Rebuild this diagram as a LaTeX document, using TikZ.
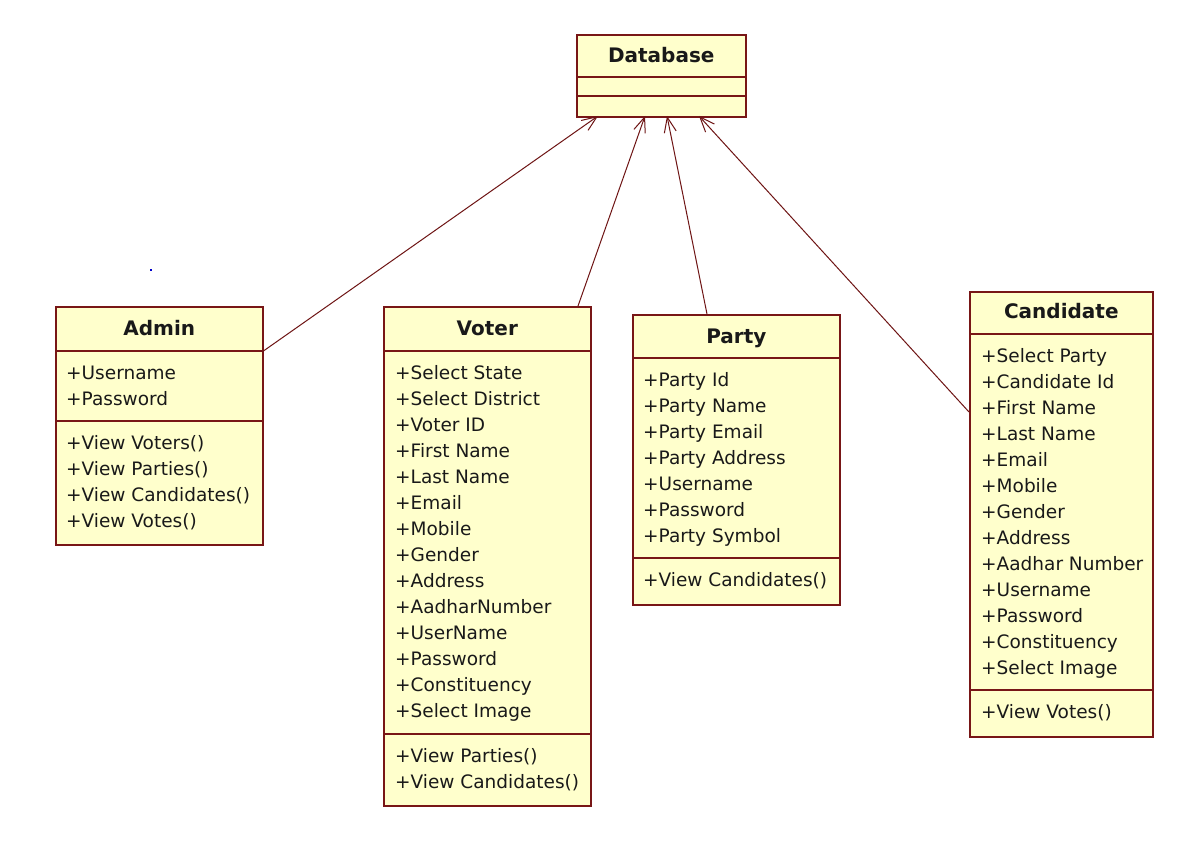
\documentclass[tikz,border=0pt]{standalone}
\usepackage{fontspec}
\setmainfont{DejaVu Sans}
\usetikzlibrary{arrows.meta}
\definecolor{umlborder}{RGB}{120,22,22}
\definecolor{umlfill}{RGB}{255,255,204}
\definecolor{umlline}{RGB}{110,20,20}
\begin{document}
\begin{tikzpicture}[x=1pt,y=-1pt,
  classbox/.style={draw=umlborder, fill=umlfill, line width=1.6pt, anchor=north west, inner sep=0pt},
  sepline/.style={draw=umlborder, line width=1.6pt},
  item/.style={anchor=base west, inner sep=0pt, font=\fontsize{18.5}{26}\selectfont, text=black!90},
  ctitle/.style={anchor=base, inner sep=0pt, font=\bfseries\fontsize{20}{24}\selectfont, text=black!90},
  dep/.style={draw=umlline, line width=1pt, -{Straight Barb[length=15pt,width=12pt,line width=1pt]}}]
\useasboundingbox (0,0) rectangle (1192,861);
\fill[white] (0,0) rectangle (1192,861);
% stray dot
\fill[blue!80!black] (150,269) rectangle (152,271);

% Database
\node[classbox, minimum width=169pt, minimum height=82pt] (db) at (576,34) {};
\draw[sepline] (db.west |- 0,77) -- (db.east |- 0,77);
\draw[sepline] (db.west |- 0,96) -- (db.east |- 0,96);
\node[ctitle] (db-t) at (db.north |- 0,63) {Database};

% Admin
\node[classbox, minimum width=207pt, minimum height=238pt] (admin) at (55,306) {};
\draw[sepline] (admin.west |- 0,351) -- (admin.east |- 0,351);
\draw[sepline] (admin.west |- 0,421) -- (admin.east |- 0,421);
\node[ctitle] (admin-t) at (admin.north |- 0,335) {Admin};
\foreach \t [count=\i] in {+Username,+Password}
  \node[item] (admin-a\i) at ({66},{379+26*(\i-1)}) {\t};
\foreach \t [count=\i] in {+View Voters(),+View Parties(),+View Candidates(),+View Votes()}
  \node[item] (admin-m\i) at ({66},{449+26*(\i-1)}) {\t};

% Voter
\node[classbox, minimum width=207pt, minimum height=499pt] (voter) at (383,306) {};
\draw[sepline] (voter.west |- 0,351) -- (voter.east |- 0,351);
\draw[sepline] (voter.west |- 0,734) -- (voter.east |- 0,734);
\node[ctitle] (voter-t) at (voter.north |- 0,335) {Voter};
\foreach \t [count=\i] in {+Select State,+Select District,+Voter ID,+First Name,+Last Name,+Email,+Mobile,+Gender,+Address,+AadharNumber,+UserName,+Password,+Constituency,+Select Image}
  \node[item] (voter-a\i) at ({395},{379+26*(\i-1)}) {\t};
\foreach \t [count=\i] in {+View Parties(),+View Candidates()}
  \node[item] (voter-m\i) at ({395},{762+26*(\i-1)}) {\t};

% Party
\node[classbox, minimum width=207pt, minimum height=290pt] (party) at (632,314) {};
\draw[sepline] (party.west |- 0,358) -- (party.east |- 0,358);
\draw[sepline] (party.west |- 0,558) -- (party.east |- 0,558);
\node[ctitle] (party-t) at (party.north |- 0,343) {Party};
\foreach \t [count=\i] in {+Party Id,+Party Name,+Party Email,+Party Address,+Username,+Password,+Party Symbol}
  \node[item] (party-a\i) at ({643},{386+26*(\i-1)}) {\t};
\node[item] (party-m1) at (643,586) {+View Candidates()};

% Candidate
\node[classbox, minimum width=183pt, minimum height=445pt] (cand) at (969,291) {};
\draw[sepline] (cand.west |- 0,334) -- (cand.east |- 0,334);
\draw[sepline] (cand.west |- 0,690) -- (cand.east |- 0,690);
\node[ctitle] (cand-t) at (cand.north |- 0,318) {Candidate};
\foreach \t [count=\i] in {+Select Party,+Candidate Id,+First Name,+Last Name,+Email,+Mobile,+Gender,+Address,+Aadhar Number,+Username,+Password,+Constituency,+Select Image}
  \node[item] (cand-a\i) at ({981},{362+26*(\i-1)}) {\t};
\node[item] (cand-m1) at (981,718) {+View Votes()};

% attachment points
\coordinate (admin-c) at (262,352);
\coordinate (voter-c) at (578,306);
\coordinate (party-c) at (707,314);
\coordinate (cand-c) at (969,412);
\coordinate (db-a) at (598,116);
\coordinate (db-b) at (645,116);
\coordinate (db-c) at (667,116);
\coordinate (db-d) at (699,116);

\draw[dep] (admin-c) -- (db-a);
\draw[dep] (voter-c) -- (db-b);
\draw[dep] (party-c) -- (db-c);
\draw[dep] (cand-c) -- (db-d);
\end{tikzpicture}
\end{document}
